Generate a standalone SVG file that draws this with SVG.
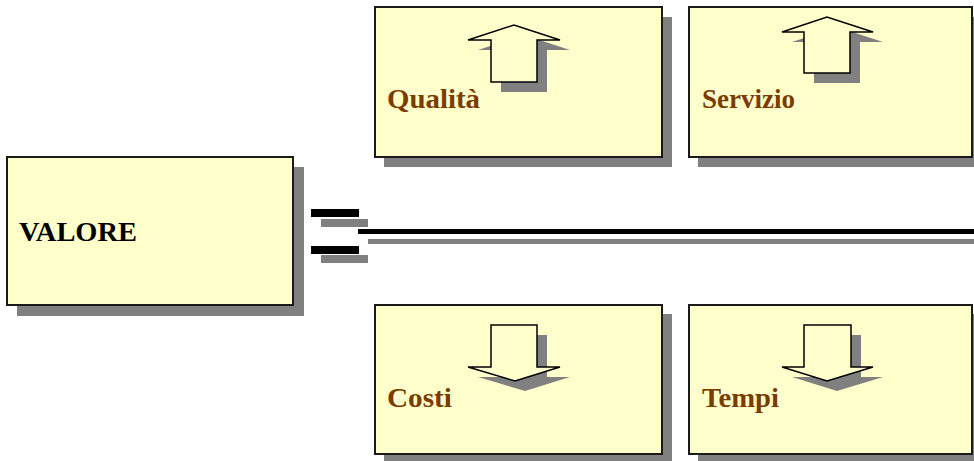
<svg xmlns="http://www.w3.org/2000/svg" width="974" height="461" viewBox="0 0 974 461">
  <style>
    .shadow { fill: #808080; }
    .box { fill: #FFFFCC; stroke: #1a1a1a; stroke-width: 2; }
    .arrow { fill: #FFFFCC; stroke: #000; stroke-width: 1.5; stroke-linejoin: miter; }
    .lbl { font-family: "Liberation Serif", "DejaVu Serif", serif; font-weight: bold; font-size: 28px; fill: #7a3c00; }
    .val { font-family: "Liberation Serif", "DejaVu Serif", serif; font-weight: bold; font-size: 28px; fill: #000; }
  </style>
  <rect width="974" height="461" fill="#fff"/>

  <g id="valore">
    <rect class="shadow" x="17" y="167" width="287" height="149"/>
    <rect class="box" x="7" y="157" width="286" height="148"/>
    <text class="val" x="19" y="241" textLength="118" lengthAdjust="spacingAndGlyphs">VALORE</text>
  </g>

  <g id="qualita">
    <rect class="shadow" x="384" y="17" width="288" height="150"/>
    <rect class="box" x="375" y="7" width="287" height="150"/>
    <polygon class="shadow" points="501,92 501,50 478,50 524,35 570,50 547,50 547,92"/>
    <polygon class="arrow" points="491,82 491,40 468,40 514,25 560,40 537,40 537,82"/>
    <text class="lbl" x="387" y="108" textLength="93" lengthAdjust="spacingAndGlyphs">Qualità</text>
  </g>

  <g id="servizio">
    <rect class="shadow" x="698" y="17" width="290" height="150"/>
    <rect class="box" x="689" y="7" width="283" height="150"/>
    <polygon class="shadow" points="814,83 814,42 792,42 837,27 883,42 860,42 860,83"/>
    <polygon class="arrow" points="804,73 804,32 782,32 827,17 873,32 850,32 850,73"/>
    <text class="lbl" x="702" y="108" textLength="93" lengthAdjust="spacingAndGlyphs">Servizio</text>
  </g>

  <g id="costi">
    <rect class="shadow" x="384" y="314" width="288" height="150"/>
    <rect class="box" x="375" y="305" width="287" height="149"/>
    <polygon class="shadow" points="501,335 547,335 547,377 570,377 525,391 478,377 501,377"/>
    <polygon class="arrow" points="491,325 537,325 537,367 560,367 515,381 468,367 491,367"/>
    <text class="lbl" x="387" y="407" textLength="65" lengthAdjust="spacingAndGlyphs">Costi</text>
  </g>

  <g id="tempi">
    <rect class="shadow" x="698" y="314" width="290" height="150"/>
    <rect class="box" x="689" y="305" width="283" height="149"/>
    <polygon class="shadow" points="814,335 861,335 861,377 883,377 837,391 792,377 814,377"/>
    <polygon class="arrow" points="804,325 851,325 851,367 873,367 827,381 782,367 804,367"/>
    <text class="lbl" x="702" y="407" textLength="77" lengthAdjust="spacingAndGlyphs">Tempi</text>
  </g>

  <g id="connectors">
    <rect class="shadow" x="321" y="219" width="47" height="8"/>
    <rect x="311" y="209" width="48" height="8" fill="#000"/>
    <rect class="shadow" x="321" y="255" width="47" height="8"/>
    <rect x="311" y="246" width="48" height="8" fill="#000"/>
    <rect class="shadow" x="368" y="239" width="606" height="5"/>
    <rect x="358" y="229" width="616" height="5" fill="#000"/>
  </g>
</svg>
